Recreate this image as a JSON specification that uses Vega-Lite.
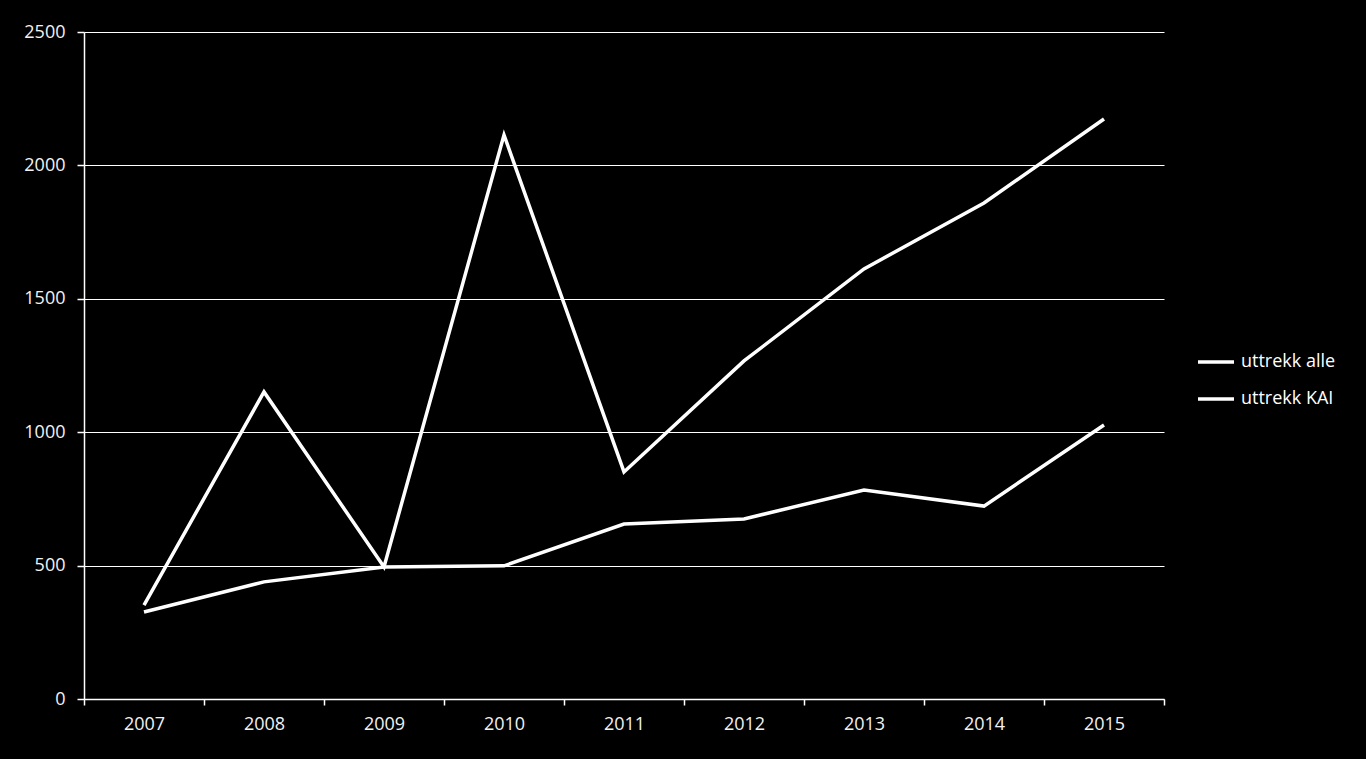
{
  "$schema": "https://vega.github.io/schema/vega-lite/v6.json",
  "width": 1080,
  "height": 667,
  "autosize": {"type": "none"},
  "padding": {"left": 84, "top": 32, "right": 202, "bottom": 60},
  "background": "black",
  "config": {
    "view": {"stroke": null},
    "font": "Open Sans"
  },
  "data": {
    "values": [
      {"year": "2007", "series": "uttrekk alle", "value": 352},
      {"year": "2008", "series": "uttrekk alle", "value": 1151},
      {"year": "2009", "series": "uttrekk alle", "value": 495},
      {"year": "2010", "series": "uttrekk alle", "value": 2114},
      {"year": "2011", "series": "uttrekk alle", "value": 851},
      {"year": "2012", "series": "uttrekk alle", "value": 1267},
      {"year": "2013", "series": "uttrekk alle", "value": 1612},
      {"year": "2014", "series": "uttrekk alle", "value": 1859},
      {"year": "2015", "series": "uttrekk alle", "value": 2174},
      {"year": "2007", "series": "uttrekk KAI", "value": 326},
      {"year": "2008", "series": "uttrekk KAI", "value": 439},
      {"year": "2009", "series": "uttrekk KAI", "value": 495},
      {"year": "2010", "series": "uttrekk KAI", "value": 499},
      {"year": "2011", "series": "uttrekk KAI", "value": 656},
      {"year": "2012", "series": "uttrekk KAI", "value": 675},
      {"year": "2013", "series": "uttrekk KAI", "value": 783},
      {"year": "2014", "series": "uttrekk KAI", "value": 723},
      {"year": "2015", "series": "uttrekk KAI", "value": 1027}
    ]
  },
  "mark": {"type": "line", "strokeWidth": 3.5, "strokeJoin": "miter", "strokeCap": "butt"},
  "encoding": {
    "x": {
      "field": "year",
      "type": "ordinal",
      "scale": {"type": "band", "paddingInner": 0, "paddingOuter": 0},
      "axis": {
        "title": null,
        "labelAngle": 0,
        "labelColor": "#f2f2f2",
        "labelFont": "Open Sans",
        "labelFontSize": 18,
        "labelPadding": 10,
        "domainColor": "white",
        "domainWidth": 1.5,
        "tickColor": "white",
        "tickWidth": 1.5,
        "tickSize": 6,
        "tickBand": "extent",
        "grid": false
      }
    },
    "y": {
      "field": "value",
      "type": "quantitative",
      "scale": {"domain": [0, 2500], "nice": false},
      "axis": {
        "title": null,
        "format": "d",
        "values": [0, 500, 1000, 1500, 2000, 2500],
        "labelColor": "#f2f2f2",
        "labelFont": "Open Sans",
        "labelFontSize": 18,
        "labelPadding": 12,
        "domainColor": "white",
        "domainWidth": 1.5,
        "tickColor": "white",
        "tickWidth": 1.5,
        "tickSize": 7,
        "grid": true,
        "gridColor": "white",
        "gridWidth": 1
      }
    },
    "color": {
      "field": "series",
      "type": "nominal",
      "scale": {"domain": ["uttrekk alle", "uttrekk KAI"], "range": ["white", "white"]},
      "legend": {
        "title": null,
        "orient": "none",
        "legendX": 1112,
        "legendY": 310,
        "symbolType": "stroke",
        "symbolSize": 1296,
        "symbolStrokeWidth": 3.5,
        "labelColor": "white",
        "labelFont": "Open Sans",
        "labelFontSize": 18,
        "labelOffset": 5,
        "rowPadding": 8
      }
    }
  }
}
